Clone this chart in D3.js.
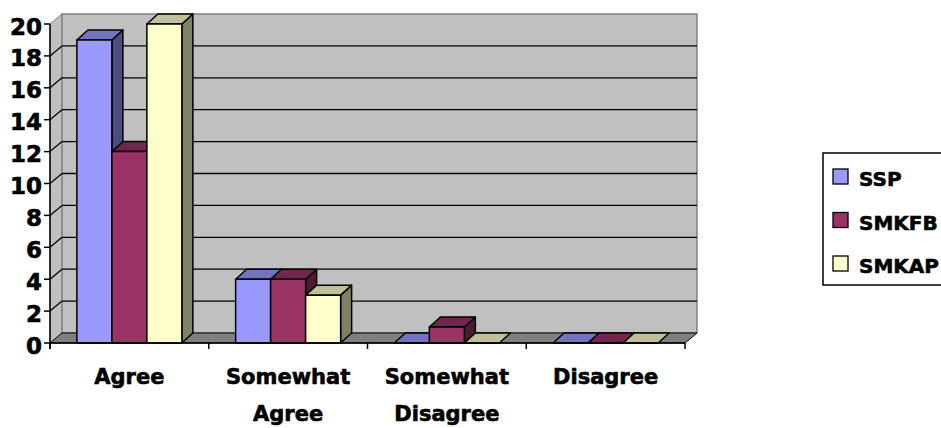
<!DOCTYPE html>
<head>
    <script src="https://d3js.org/d3.v7.min.js" charset="utf-8"></script>
    <style type="text/css">
        body {
            margin: 0;
            background-color: white;
        }

        text {
            font-family: "DejaVu Sans", sans-serif;
            font-weight: bold;
            fill: black;
            stroke: black;
            stroke-width: 0.6px;
        }
    </style>
</head>

<body>
    <svg id="main"></svg>
    <script>
        // chart data
        const categories = ["Agree", "Somewhat Agree", "Somewhat Disagree", "Disagree"]
        const series = ["SSP", "SMKFB", "SMKAP"]
        const sspValues = [19, 4, 0, 0]
        const smkfbValues = [12, 4, 1, 0]
        const smkapValues = [20, 3, 0, 0]
        const yTicks = [0, 2, 4, 6, 8, 10, 12, 14, 16, 18, 20]

        const frontColors = ["#9999ff", "#993366", "#ffffcc"]
        const topColors = ["#7373bf", "#73264d", "#bfbf99"]
        const sideColors = ["#4d4d80", "#4d1a33", "#808066"]

        let width = 941,
            height = 428

        let svg1 = d3.select("#main")
            .attr("width", width)
            .attr("height", height)

        // 3d offsets: walls and bars
        let wdx = 12, wdy = -10
        let bdx = 11, bdy = -10

        let y = d3.scaleLinear().domain([0, 20]).range([343, 24])
        let x = d3.scaleBand().domain(categories).range([50, 685])
        let groupWidth = 105
        let x1 = d3.scaleBand().domain(series).range([0, groupWidth])

        let x0 = x.range()[0], xEnd = x.range()[1], y0 = y(0), yTop = y(20)

        // side wall (left)
        svg1.append("polygon")
            .attr("points", [[x0, y0], [x0, yTop], [x0 + wdx, yTop + wdy], [x0 + wdx, y0 + wdy]].join(" "))
            .attr("fill", "#c0c0c0")
            .attr("stroke", "#808080")

        // back wall
        svg1.append("rect")
            .attr("x", x0 + wdx)
            .attr("y", yTop + wdy)
            .attr("width", xEnd - x0)
            .attr("height", y0 - yTop)
            .attr("fill", "#c0c0c0")
            .attr("stroke", "#808080")
            .attr("stroke-width", 1.5)

        // floor
        svg1.append("polygon")
            .attr("points", [[x0, y0], [x0 + wdx, y0 + wdy], [xEnd + wdx, y0 + wdy], [xEnd, y0]].join(" "))
            .attr("fill", "#808080")
            .attr("stroke", "#000")
            .attr("stroke-width", 1)

        // gridlines on back wall + side wall
        let grid = yTicks.filter(d => d > 0 && d < 20)
        svg1.append("g").selectAll("line")
            .data(grid).enter()
            .append("line")
            .attr("x1", x0 + wdx).attr("x2", xEnd + wdx)
            .attr("y1", d => y(d) + wdy).attr("y2", d => y(d) + wdy)
            .attr("stroke", "#000").attr("stroke-width", 1.3)
        svg1.append("g").selectAll("line")
            .data(grid).enter()
            .append("line")
            .attr("x1", x0).attr("x2", x0 + wdx)
            .attr("y1", d => y(d)).attr("y2", d => y(d) + wdy)
            .attr("stroke", "#000").attr("stroke-width", 1.3)

        // bars
        const allValues = [sspValues, smkfbValues, smkapValues]
        let bw = x1.bandwidth()
        let bars = svg1.append("g")
        categories.forEach(function (cat, ci) {
            series.forEach(function (s, si) {
                let v = allValues[si][ci]
                let bx = x(cat) + (x.bandwidth() - groupWidth) / 2 + x1(s)
                let by = y(v)
                let g = bars.append("g")
                    .attr("stroke", "#000")
                    .attr("stroke-width", 1.5)
                    .attr("stroke-linejoin", "round")
                if (v > 0) {
                    g.append("polygon")
                        .attr("points", [[bx + bw, by], [bx + bw + bdx, by + bdy], [bx + bw + bdx, y0 + bdy], [bx + bw, y0]].join(" "))
                        .attr("fill", sideColors[si])
                }
                g.append("polygon")
                    .attr("points", [[bx, by], [bx + bdx, by + bdy], [bx + bw + bdx, by + bdy], [bx + bw, by]].join(" "))
                    .attr("fill", topColors[si])
                if (v > 0) {
                    g.append("rect")
                        .attr("x", bx).attr("y", by)
                        .attr("width", bw).attr("height", y0 - by)
                        .attr("fill", frontColors[si])
                }
            })
        })

        // y axis
        svg1.append("line")
            .attr("x1", x0).attr("x2", x0)
            .attr("y1", yTop).attr("y2", y0 + 6)
            .attr("stroke", "#000").attr("stroke-width", 1.5)
        svg1.append("g").selectAll("line")
            .data(yTicks).enter()
            .append("line")
            .attr("x1", x0 - 6).attr("x2", x0)
            .attr("y1", d => y(d)).attr("y2", d => y(d))
            .attr("stroke", "#000").attr("stroke-width", 1.5)
        svg1.append("g").selectAll("text")
            .data(yTicks).enter()
            .append("text")
            .attr("x", 42)
            .attr("y", d => y(d) + 10.5)
            .attr("text-anchor", "end")
            .attr("font-size", 23)
            .text(d => d)

        // x axis
        svg1.append("line")
            .attr("x1", x0).attr("x2", xEnd)
            .attr("y1", y0).attr("y2", y0)
            .attr("stroke", "#000").attr("stroke-width", 1.5)
        let bounds = categories.map(c => x(c)).concat([xEnd])
        svg1.append("g").selectAll("line")
            .data(bounds).enter()
            .append("line")
            .attr("x1", d => d).attr("x2", d => d)
            .attr("y1", y0).attr("y2", y0 + 6)
            .attr("stroke", "#000").attr("stroke-width", 1.5)

        let labels = svg1.append("g").selectAll("text")
            .data(categories).enter()
            .append("text")
            .attr("text-anchor", "middle")
            .attr("font-size", 21)
        labels.each(function (d) {
            let words = d.split(" ")
            let cx = x(d) + x.bandwidth() / 2
            words.forEach(function (w, i) {
                d3.select(this).append("tspan")
                    .attr("x", cx)
                    .attr("y", 384 + i * 37)
                    .text(w)
            }, this)
        })

        // legend
        let legend = svg1.append("g")
        legend.append("rect")
            .attr("x", 823).attr("y", 153)
            .attr("width", 200).attr("height", 132)
            .attr("fill", "white")
            .attr("stroke", "#000").attr("stroke-width", 1.5)
        series.forEach(function (s, i) {
            legend.append("rect")
                .attr("x", 833).attr("y", 169 + i * 43.5)
                .attr("width", 15).attr("height", 15)
                .attr("fill", frontColors[i])
                .attr("stroke", "#000").attr("stroke-width", 1.3)
            legend.append("text")
                .attr("x", 859).attr("y", 186 + i * 43.5)
                .attr("font-size", 20)
                .text(s)
        })
    </script>
</body>
